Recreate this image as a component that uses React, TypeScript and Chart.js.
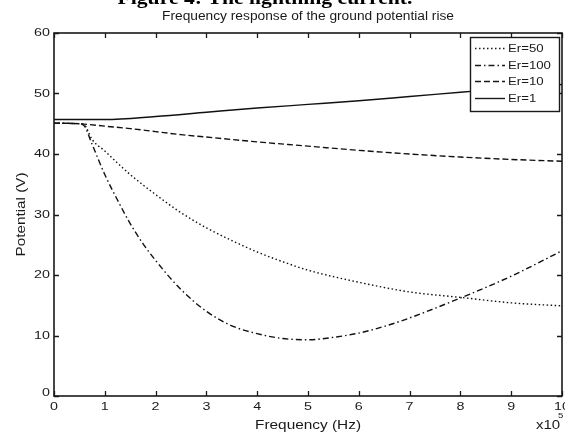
import React, { useEffect, useRef } from "react";
import { Chart, registerables } from "chart.js";

Chart.register(...registerables);

// Frequency axis in units of 1e5 Hz, potential in volts.
const freqEr1 = [0, 1, 2, 3, 4, 5, 6, 7, 8, 9, 10];
const potEr1 = [45.7, 45.7, 46.2, 46.9, 47.6, 48.2, 48.8, 49.5, 50.2, 50.9, 51.5];

const freqEr10 = [0, 0.5, 1, 1.5, 2, 2.5, 3, 4, 5, 6, 7, 8, 9, 10];
const potEr10 = [45.1, 45.0, 44.6, 44.2, 43.7, 43.2, 42.8, 42.0, 41.3, 40.6, 40.0, 39.5, 39.1, 38.8];

const freqEr50 = [0, 0.5, 0.6, 0.75, 1, 1.25, 1.5, 2, 2.5, 3, 3.5, 4, 4.5, 5, 6, 7, 8, 9, 10];
const potEr50 = [45.1, 45.0, 44.8, 42.4, 40.5, 38.5, 36.6, 33.3, 30.3, 27.8, 25.7, 23.8, 22.2, 20.8, 18.8, 17.2, 16.3, 15.4, 14.9];

const freqEr100 = [0, 0.5, 0.6, 0.75, 1, 1.25, 1.5, 1.75, 2, 2.5, 3, 3.5, 4, 4.5, 5, 5.5, 6, 6.5, 7, 8, 9, 10];
const potEr100 = [45.1, 45.0, 44.6, 41.6, 36.6, 32.4, 28.5, 25.2, 22.4, 17.6, 14.0, 11.6, 10.3, 9.5, 9.3, 9.7, 10.4, 11.5, 12.9, 16.2, 19.8, 24.0];

const xTicks = [0, 1, 2, 3, 4, 5, 6, 7, 8, 9, 10];
const yTicks = [0, 10, 20, 30, 40, 50, 60];

const legendLabels = ["Er=50", "Er=100", "Er=10", "Er=1"];
const legendDashes: number[][] = [[1.5, 2.5], [6, 3, 1.5, 3], [6, 3], []];

const ink = "#1a1a1a";
const sans = '"Liberation Sans", Arial, sans-serif';

const toPoints = (xs: number[], ys: number[]) => xs.map((x, i) => ({ x, y: ys[i] }));

function drawText(
  ctx: CanvasRenderingContext2D,
  text: string,
  x: number,
  y: number,
  font: string,
  align: "left" | "center" | "right",
  sx: number,
  baseline: CanvasTextBaseline = "middle"
) {
  ctx.save();
  ctx.font = font;
  ctx.textBaseline = baseline;
  ctx.textAlign = "left";
  const w = ctx.measureText(text).width * sx;
  const x0 = align === "left" ? x : align === "center" ? x - w / 2 : x - w;
  ctx.translate(x0, y);
  ctx.scale(sx, 1);
  ctx.fillText(text, 0, 0);
  ctx.restore();
}

function fitText(
  ctx: CanvasRenderingContext2D,
  text: string,
  cx: number,
  y: number,
  font: string,
  width: number,
  baseline: CanvasTextBaseline = "middle"
) {
  ctx.save();
  ctx.font = font;
  const sx = width / ctx.measureText(text).width;
  ctx.restore();
  drawText(ctx, text, cx, y, font, "center", sx, baseline);
}

const framePlugin = {
  id: "frame",
  afterDatasetsDraw(chart: any) {
    const ctx: CanvasRenderingContext2D = chart.ctx;
    const { left, right, top, bottom } = chart.chartArea;
    const xs = chart.scales.x;
    const ys = chart.scales.y;
    ctx.save();
    ctx.fillStyle = ink;
    ctx.strokeStyle = ink;

    // inward tick marks on all four sides
    ctx.lineWidth = 1.3;
    const tl = 5;
    ctx.beginPath();
    xTicks.forEach((v) => {
      const px = Math.round(xs.getPixelForValue(v)) + 0.5;
      ctx.moveTo(px, bottom);
      ctx.lineTo(px, bottom - tl);
      ctx.moveTo(px, top);
      ctx.lineTo(px, top + tl);
    });
    yTicks.forEach((v) => {
      const py = Math.round(ys.getPixelForValue(v)) + 0.5;
      ctx.moveTo(left, py);
      ctx.lineTo(left + tl, py);
      ctx.moveTo(right, py);
      ctx.lineTo(right - tl, py);
    });
    ctx.stroke();

    // legend
    const lx0 = 470;
    const lx1 = 559;
    const ly0 = 37;
    const ly1 = 111;
    ctx.fillStyle = "#ffffff";
    ctx.fillRect(lx0, ly0, lx1 - lx0, ly1 - ly0);
    ctx.lineWidth = 1.4;
    ctx.strokeRect(lx0 + 0.5, ly0 + 0.5, lx1 - lx0, ly1 - ly0);
    const rowY = [48, 65, 81, 98];
    legendLabels.forEach((label, i) => {
      ctx.save();
      ctx.lineWidth = 1.4;
      ctx.setLineDash(legendDashes[i]);
      ctx.beginPath();
      ctx.moveTo(475, rowY[i] + 0.5);
      ctx.lineTo(505, rowY[i] + 0.5);
      ctx.stroke();
      ctx.restore();
      ctx.fillStyle = ink;
      drawText(ctx, label, 508, rowY[i] + 0.5, `11px ${sans}`, "left", 1.2);
    });

    // plot frame
    ctx.lineWidth = 1.6;
    ctx.strokeRect(left, top, right - left, bottom - top);
    ctx.restore();
  },
  afterDraw(chart: any) {
    const ctx: CanvasRenderingContext2D = chart.ctx;
    const { left, right, top, bottom } = chart.chartArea;
    const xs = chart.scales.x;
    const ys = chart.scales.y;
    ctx.save();
    ctx.fillStyle = ink;

    // tick labels
    xTicks.forEach((v) => {
      drawText(ctx, String(v), xs.getPixelForValue(v), bottom + 11, `11px ${sans}`, "center", 1.3);
    });
    yTicks.forEach((v) => {
      const py = ys.getPixelForValue(v) - (v === 0 ? 3 : 0);
      drawText(ctx, String(v), left - 4, py, `11px ${sans}`, "right", 1.3);
    });

    // axis titles
    fitText(ctx, "Frequency (Hz)", (left + right) / 2, 425, `13px ${sans}`, 106);
    drawText(ctx, "x10", 536, 426, `12px ${sans}`, "left", 1.25);
    drawText(ctx, "5", 558, 416, `8px ${sans}`, "left", 1.2);

    ctx.save();
    ctx.translate(21, (top + bottom) / 2);
    ctx.rotate(-Math.PI / 2);
    fitText(ctx, "Potential (V)", 0, 0, `13px ${sans}`, 84);
    ctx.restore();

    // chart title and caption above it
    fitText(ctx, "Frequency response of the ground potential rise", (left + right) / 2, 17, `12px ${sans}`, 292);
    ctx.fillStyle = "#000000";
    fitText(ctx, "Figure 4: The lightning current.", 265, 4, `bold 19px "Liberation Serif", serif`, 295, "alphabetic");
    ctx.restore();
  },
};

export default function App() {
  const ref = useRef<HTMLCanvasElement>(null);

  useEffect(() => {
    document.body.style.margin = "0";
    const line = (xs: number[], ys: number[], dash: number[]) => ({
      data: toPoints(xs, ys),
      borderColor: "#111111",
      borderWidth: 1.4,
      borderDash: dash,
      cubicInterpolationMode: "monotone" as const,
      fill: false,
      pointRadius: 0,
    });
    const chart = new Chart(ref.current!, {
      type: "line",
      data: {
        datasets: [
          { label: legendLabels[0], ...line(freqEr50, potEr50, legendDashes[0]) },
          { label: legendLabels[1], ...line(freqEr100, potEr100, legendDashes[1]) },
          { label: legendLabels[2], ...line(freqEr10, potEr10, legendDashes[2]) },
          { label: legendLabels[3], ...line(freqEr1, potEr1, legendDashes[3]) },
        ],
      },
      options: {
        responsive: false,
        animation: false,
        layout: { padding: { left: 0, right: 3, top: 33, bottom: 0 } },
        plugins: {
          legend: { display: false },
          title: { display: false },
          tooltip: { enabled: false },
        },
        scales: {
          x: {
            type: "linear",
            min: 0,
            max: 10,
            ticks: { display: false, stepSize: 1 },
            grid: { display: false, drawTicks: false },
            border: { display: false },
            afterFit: (s: any) => {
              s.height = 43;
              s.paddingLeft = 0;
              s.paddingRight = 0;
            },
          },
          y: {
            type: "linear",
            min: 0,
            max: 60,
            ticks: { display: false, stepSize: 10 },
            grid: { display: false, drawTicks: false },
            border: { display: false },
            afterFit: (s: any) => {
              s.width = 54;
            },
          },
        },
      },
      plugins: [framePlugin],
    });
    return () => chart.destroy();
  }, []);

  return <canvas ref={ref} width={565} height={439} style={{ display: "block" }} />;
}
